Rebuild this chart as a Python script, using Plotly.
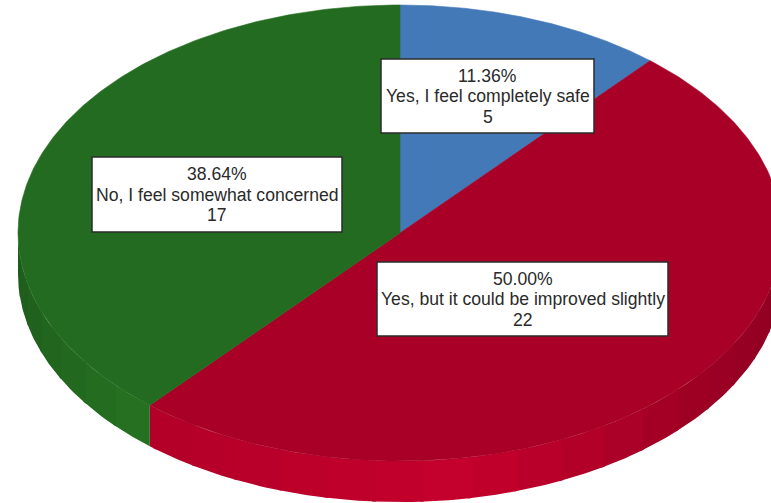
import numpy as np
import plotly.graph_objects as go

# Survey answers and counts, in clockwise order from twelve o'clock
categories = ["Yes, I feel completely safe",
              "Yes, but it could be improved slightly",
              "No, I feel somewhat concerned"]
counts = [5, 22, 17]
colors = ["#4479b8", "#a80026", "#236b20"]

# Label box centre and size for each answer, in pixels
box_x = [487.5, 522.5, 217]
box_y = [96, 299, 194.5]
box_w = [213, 291, 250]
box_h = [74, 74, 75]

WIDTH, HEIGHT = 771, 503
CX, CY, RX, RY, DEPTH = 400, 233, 382, 228, 41
FACET = 7.2        # degrees per shaded band on the pie's rim
OVERLAP = 0.6      # degrees each band runs under the next, closing hairline seams
LINE_PITCH = 20.5  # pixels between label lines


def rim(theta):
    t = np.radians(theta)
    return CX + RX * np.sin(t), CY - RY * np.cos(t)


def shade(hex_color, factor):
    rgb = [int(hex_color[i:i + 2], 16) for i in (1, 3, 5)]
    return "rgb({},{},{})".format(*[min(255, round(c * factor)) for c in rgb])


def rim_light(theta):
    return float(np.interp(theta, [90, 130, 170, 221, 270],
                           [0.82, 0.94, 1.17, 1.06, 0.84]))


fig = go.Figure()
total = sum(counts)
edges = np.concatenate([[0], np.cumsum(counts) / total * 360])

# Side wall: only the front half of the disc is visible
for color, a0, a1 in zip(colors, edges[:-1], edges[1:]):
    lo, hi = max(a0, 90), min(a1, 270)
    if hi <= lo:
        continue
    stops = np.append(np.arange(lo, hi, FACET), hi)
    for s0, s1 in zip(stops[:-1], stops[1:]):
        th = np.linspace(s0, min(s1 + OVERLAP, hi), 10)
        x, y = rim(th)
        fill = shade(color, rim_light((s0 + s1) / 2))
        fig.add_trace(go.Scatter(
            x=np.concatenate([x, x[::-1], x[:1]]),
            y=np.concatenate([y, y[::-1] + DEPTH, y[:1]]),
            mode="lines", fill="toself", fillcolor=fill,
            line=dict(width=0), hoverinfo="skip", showlegend=False))

# Top face wedges
for name, color, a0, a1 in zip(categories, colors, edges[:-1], edges[1:]):
    th = np.linspace(a0, a1, 240)
    x, y = rim(th)
    fig.add_trace(go.Scatter(
        x=np.concatenate([[CX], x, [CX]]),
        y=np.concatenate([[CY], y, [CY]]),
        mode="lines", fill="toself", fillcolor=color,
        line=dict(color=color, width=0.6), name=name, showlegend=False))

# Value labels: a white outlined box with three centred lines
for name, n, bx, by, bw, bh in zip(categories, counts, box_x, box_y, box_w, box_h):
    fig.add_shape(type="rect", xref="x", yref="y",
                  x0=bx - bw / 2, x1=bx + bw / 2, y0=by - bh / 2, y1=by + bh / 2,
                  fillcolor="white", line=dict(color="#2b2b2b", width=1.5))
    lines = [f"{n / total * 100:.2f}%", name, str(n)]
    for offset, line in zip((-1, 0, 1), lines):
        fig.add_annotation(
            x=bx, y=by + offset * LINE_PITCH, xref="x", yref="y",
            showarrow=False, text=line, align="center",
            font=dict(family="Liberation Sans", size=17.6, color="#2a2a2a"))

fig.update_layout(
    width=WIDTH, height=HEIGHT, autosize=False,
    margin=dict(l=0, r=0, t=0, b=0),
    paper_bgcolor="white", plot_bgcolor="white", showlegend=False,
    xaxis=dict(range=[0, WIDTH], visible=False, fixedrange=True),
    yaxis=dict(range=[HEIGHT, 0], visible=False, fixedrange=True),
)

fig.write_html("out.html", config={"displayModeBar": False})
